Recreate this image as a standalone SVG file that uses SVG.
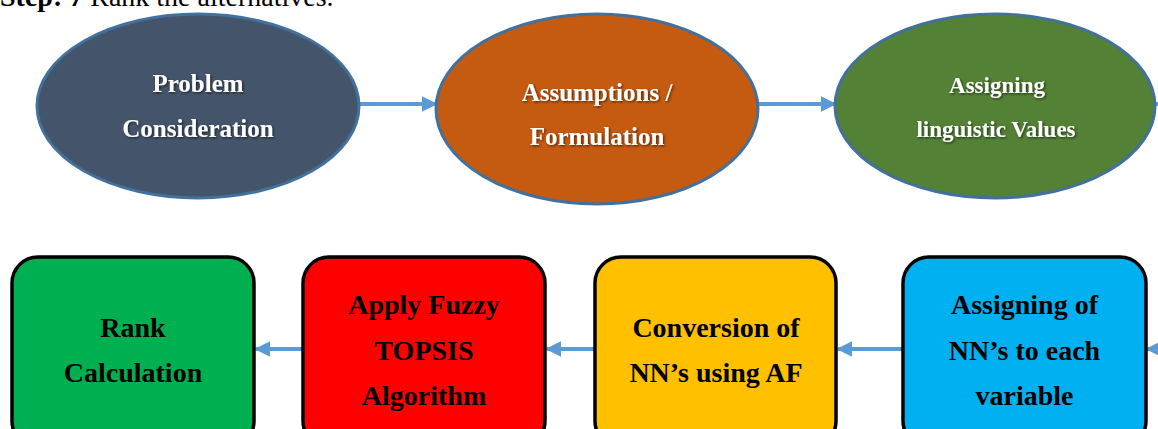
<svg xmlns="http://www.w3.org/2000/svg" width="1158" height="429" viewBox="0 0 1158 429">
  <style>
    .ell { stroke: #41719C; stroke-width: 3; }
    .box { stroke: #000000; stroke-width: 3.5; }
    .et { font-family: "Liberation Serif", "Times New Roman", serif; font-weight: bold; fill: #FFFFFF; text-anchor: middle; filter: url(#shadow); }
    .bt { font-family: "Liberation Serif", "Times New Roman", serif; font-weight: bold; fill: #000000; text-anchor: middle; font-size: 28px; }
    .conn { stroke: #5B9BD5; stroke-width: 4; fill: none; }
    .hdr { font-family: "Liberation Serif", "Times New Roman", serif; font-size: 28px; fill: #000000; }
  </style>
  <defs>
    <filter id="shadow" x="-10%" y="-30%" width="120%" height="160%">
      <feDropShadow dx="1.2" dy="1.2" stdDeviation="0.8" flood-color="#000000" flood-opacity="0.6"/>
    </filter>
    <marker id="arrow" viewBox="0 0 10 10" refX="9" refY="5" markerWidth="4" markerHeight="4" orient="auto" markerUnits="strokeWidth">
      <path d="M0,0 L10,5 L0,10 Z" fill="#5B9BD5"/>
    </marker>
  </defs>

  <text class="hdr" x="0" y="6"><tspan font-weight="bold">Step: 7</tspan> Rank the alternatives.</text>

  <g id="connectors">
    <line class="conn" x1="360" y1="104" x2="436" y2="104" marker-end="url(#arrow)"/>
    <line class="conn" x1="758" y1="104" x2="835" y2="104" marker-end="url(#arrow)"/>
    <line class="conn" x1="1155" y1="104" x2="1162" y2="104"/>
    <line class="conn" x1="1175" y1="349" x2="1147" y2="349" marker-end="url(#arrow)"/>
    <line class="conn" x1="903" y1="349" x2="838" y2="349" marker-end="url(#arrow)"/>
    <line class="conn" x1="595" y1="349" x2="547" y2="349" marker-end="url(#arrow)"/>
    <line class="conn" x1="303" y1="349" x2="256" y2="349" marker-end="url(#arrow)"/>
  </g>

  <g id="node-problem">
    <ellipse class="ell" cx="198" cy="106" rx="161" ry="92" fill="#44546A"/>
    <text class="et" x="198" y="92" font-size="25">Problem</text>
    <text class="et" x="198" y="137" font-size="25">Consideration</text>
  </g>

  <g id="node-assumptions">
    <ellipse class="ell" cx="597" cy="109" rx="161" ry="95" fill="#C55A11"/>
    <text class="et" x="597" y="101" font-size="25">Assumptions /</text>
    <text class="et" x="597" y="145" font-size="25">Formulation</text>
  </g>

  <g id="node-linguistic">
    <ellipse class="ell" cx="995" cy="106" rx="160" ry="92" fill="#538135"/>
    <text class="et" x="997" y="93" font-size="23">Assigning</text>
    <text class="et" x="996" y="137" font-size="23">linguistic Values</text>
  </g>

  <g id="node-assign-nn">
    <rect class="box" x="903" y="257" width="243" height="190" rx="26" fill="#00B0F0"/>
    <text class="bt" x="1024.5" y="314">Assigning of</text>
    <text class="bt" x="1024.5" y="360">NN’s to each</text>
    <text class="bt" x="1024.5" y="405">variable</text>
  </g>

  <g id="node-conversion">
    <rect class="box" x="595" y="257" width="241" height="190" rx="26" fill="#FFC000"/>
    <text class="bt" x="716" y="337">Conversion of</text>
    <text class="bt" x="716" y="382">NN’s using AF</text>
  </g>

  <g id="node-topsis">
    <rect class="box" x="303" y="257" width="242" height="190" rx="26" fill="#FF0000"/>
    <text class="bt" x="424" y="314">Apply Fuzzy</text>
    <text class="bt" x="424" y="360">TOPSIS</text>
    <text class="bt" x="424" y="405">Algorithm</text>
  </g>

  <g id="node-rank">
    <rect class="box" x="12" y="257" width="242" height="190" rx="26" fill="#00B050"/>
    <text class="bt" x="133" y="337">Rank</text>
    <text class="bt" x="133" y="382">Calculation</text>
  </g>
</svg>
